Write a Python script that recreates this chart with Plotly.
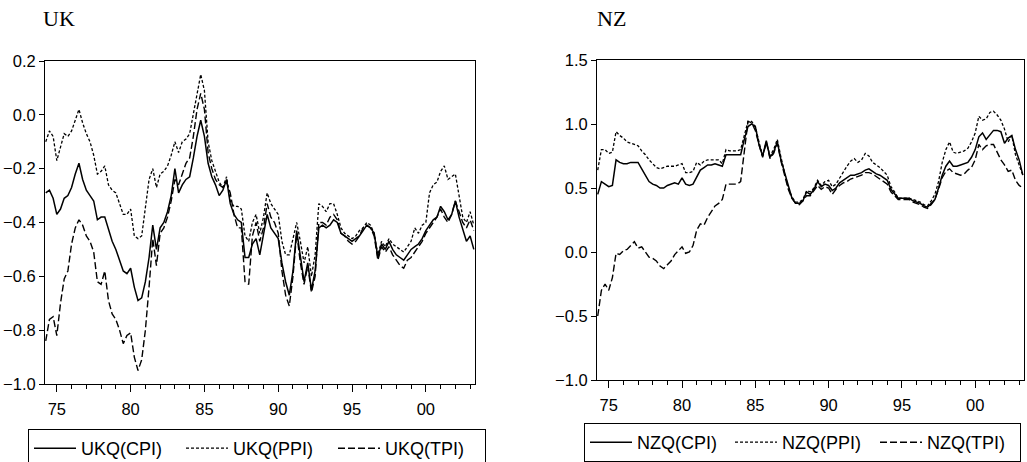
import plotly.graph_objects as go

# ---------------- data (quarterly, 1974Q2 .. 2003Q2) ----------------
start_year = 1974.25
tick_vals = [1975, 1980, 1985, 1990, 1995, 2000]
tick_text = ["75", "80", "85", "90", "95", "00"]

uk_cpi = [
    -0.29, -0.28, -0.31,
    -0.37, -0.35, -0.31, -0.30,
    -0.27, -0.22, -0.18, -0.24,
    -0.28, -0.30, -0.32, -0.39,
    -0.38, -0.38, -0.43, -0.47,
    -0.50, -0.54, -0.58, -0.59,
    -0.57, -0.64, -0.69, -0.68,
    -0.62, -0.53, -0.41, -0.50,
    -0.42, -0.40, -0.36, -0.30,
    -0.20, -0.29, -0.26, -0.24,
    -0.23, -0.16, -0.08, -0.02,
    -0.08, -0.18, -0.23, -0.26,
    -0.30, -0.28, -0.24, -0.33,
    -0.37, -0.39, -0.40, -0.53,
    -0.53, -0.48, -0.46, -0.52,
    -0.45, -0.37, -0.42, -0.44,
    -0.46, -0.55, -0.62, -0.67,
    -0.58, -0.43, -0.52, -0.62,
    -0.55, -0.65, -0.58, -0.42,
    -0.41, -0.42, -0.41, -0.39,
    -0.40, -0.44, -0.45, -0.46,
    -0.47, -0.46, -0.45, -0.43,
    -0.41, -0.42, -0.44, -0.53,
    -0.48, -0.50, -0.47, -0.50,
    -0.52, -0.53, -0.54, -0.52,
    -0.50, -0.49, -0.48, -0.46,
    -0.43, -0.41, -0.39, -0.38,
    -0.34, -0.36, -0.39, -0.37,
    -0.32, -0.38, -0.43, -0.47,
    -0.45, -0.50,
]
uk_ppi = [
    -0.10, -0.06, -0.08,
    -0.17, -0.12, -0.07, -0.08,
    -0.06, -0.02, 0.02, -0.03,
    -0.07, -0.10, -0.15, -0.22,
    -0.21, -0.19, -0.26, -0.28,
    -0.29, -0.33, -0.37, -0.37,
    -0.35, -0.45, -0.46, -0.45,
    -0.35, -0.24, -0.20, -0.27,
    -0.22, -0.21, -0.19, -0.15,
    -0.10, -0.14, -0.10, -0.09,
    -0.07, 0.00, 0.08, 0.15,
    0.09, -0.10, -0.17, -0.21,
    -0.25, -0.27, -0.23, -0.32,
    -0.34, -0.34, -0.35, -0.45,
    -0.47, -0.40, -0.37, -0.44,
    -0.38, -0.29, -0.33, -0.35,
    -0.37, -0.47, -0.52, -0.52,
    -0.46, -0.40, -0.47, -0.55,
    -0.49, -0.60, -0.52, -0.33,
    -0.34, -0.36, -0.33, -0.33,
    -0.37, -0.42, -0.44, -0.45,
    -0.46, -0.45, -0.43, -0.42,
    -0.40, -0.41, -0.44, -0.52,
    -0.47, -0.49, -0.46, -0.48,
    -0.49, -0.50, -0.51, -0.49,
    -0.47, -0.42, -0.44, -0.41,
    -0.40, -0.29, -0.26, -0.25,
    -0.21, -0.19, -0.24, -0.23,
    -0.22, -0.30, -0.38, -0.40,
    -0.36, -0.41,
]
uk_tpi = [
    -0.84, -0.76, -0.75,
    -0.82, -0.70, -0.61, -0.58,
    -0.48, -0.42, -0.39, -0.41,
    -0.45, -0.47, -0.51, -0.62,
    -0.63, -0.58, -0.69, -0.74,
    -0.76, -0.80, -0.85, -0.82,
    -0.81, -0.90, -0.95, -0.91,
    -0.80, -0.64, -0.46, -0.56,
    -0.44, -0.42, -0.38, -0.32,
    -0.24, -0.26, -0.22, -0.18,
    -0.16, -0.08, 0.02, 0.08,
    0.02, -0.14, -0.20, -0.24,
    -0.26, -0.27, -0.25, -0.29,
    -0.37, -0.42, -0.42, -0.62,
    -0.63, -0.45, -0.40, -0.47,
    -0.42, -0.33, -0.38, -0.40,
    -0.44, -0.58, -0.67, -0.71,
    -0.60, -0.44, -0.55, -0.63,
    -0.56, -0.66, -0.60, -0.40,
    -0.40, -0.41, -0.38, -0.37,
    -0.39, -0.44, -0.45, -0.47,
    -0.48, -0.47, -0.45, -0.42,
    -0.41, -0.42, -0.45, -0.54,
    -0.49, -0.51, -0.49, -0.52,
    -0.54, -0.56, -0.57, -0.54,
    -0.53, -0.51, -0.49, -0.47,
    -0.44, -0.42, -0.40, -0.38,
    -0.35, -0.38, -0.40, -0.37,
    -0.32, -0.36, -0.40, -0.42,
    -0.39, -0.43,
]

nz_cpi = [
    0.45, 0.55, 0.53,
    0.51, 0.52, 0.72, 0.70,
    0.69, 0.69, 0.70, 0.70,
    0.70, 0.65, 0.60, 0.55,
    0.53, 0.52, 0.50, 0.50,
    0.52, 0.53, 0.54, 0.53,
    0.58, 0.53, 0.52, 0.53,
    0.59, 0.64, 0.66, 0.68,
    0.68, 0.69, 0.68, 0.67,
    0.76, 0.76, 0.76, 0.76,
    0.76, 0.88, 0.98, 1.00,
    0.98, 0.84, 0.75, 0.87,
    0.74, 0.78, 0.86, 0.72,
    0.62, 0.50, 0.42, 0.38,
    0.38, 0.40, 0.47, 0.45,
    0.49, 0.55, 0.51, 0.53,
    0.52, 0.48, 0.50, 0.54,
    0.56, 0.58, 0.60, 0.60,
    0.61, 0.62, 0.64, 0.65,
    0.63, 0.61, 0.60, 0.58,
    0.56, 0.49, 0.45, 0.42,
    0.42, 0.42, 0.42, 0.40,
    0.39, 0.38, 0.36, 0.35,
    0.38, 0.41, 0.50, 0.60,
    0.67, 0.71, 0.67, 0.67,
    0.68, 0.69, 0.70, 0.74,
    0.80, 0.90, 0.93, 0.88,
    0.92, 0.95, 0.95, 0.94,
    0.85, 0.89, 0.91, 0.80,
    0.72, 0.60,
]
nz_ppi = [
    0.64, 0.80, 0.80,
    0.77, 0.78, 0.94, 0.91,
    0.89, 0.86, 0.85, 0.84,
    0.83, 0.79, 0.76, 0.72,
    0.69, 0.66, 0.65, 0.66,
    0.67, 0.67, 0.67, 0.68,
    0.69, 0.62, 0.62, 0.63,
    0.70, 0.68, 0.71, 0.72,
    0.72, 0.72, 0.72, 0.69,
    0.80, 0.79, 0.79, 0.79,
    0.80, 0.92, 1.02, 1.02,
    0.98, 0.86, 0.75, 0.86,
    0.75, 0.80, 0.88, 0.74,
    0.62, 0.50, 0.43, 0.39,
    0.39, 0.41, 0.48, 0.47,
    0.50, 0.56, 0.52, 0.55,
    0.56, 0.51, 0.53, 0.58,
    0.63, 0.67, 0.71, 0.73,
    0.70, 0.72, 0.77, 0.75,
    0.70, 0.68, 0.66, 0.63,
    0.60, 0.51, 0.47, 0.42,
    0.42, 0.42, 0.42, 0.41,
    0.40, 0.39, 0.37, 0.36,
    0.40, 0.45, 0.55, 0.70,
    0.80, 0.86, 0.78, 0.77,
    0.78, 0.79, 0.81, 0.86,
    0.93, 1.06, 1.03, 1.04,
    1.09, 1.10, 1.07, 1.03,
    0.96, 0.86, 0.91, 0.76,
    0.68, 0.60,
]
nz_tpi = [
    -0.50, -0.30, -0.25,
    -0.30, -0.20, -0.01, -0.02,
    0.01, 0.02, 0.05, 0.08,
    0.03, 0.04, 0.00, -0.04,
    -0.05, -0.07, -0.11, -0.13,
    -0.10, -0.07, -0.02, 0.01,
    0.04, -0.01, 0.00, 0.05,
    0.17, 0.22, 0.21, 0.27,
    0.32, 0.36, 0.38, 0.41,
    0.53, 0.53, 0.53, 0.53,
    0.55, 0.78, 1.02, 1.01,
    0.95, 0.84, 0.74, 0.86,
    0.73, 0.77, 0.85, 0.71,
    0.61, 0.49, 0.42, 0.38,
    0.37, 0.40, 0.44, 0.44,
    0.48, 0.52, 0.49, 0.51,
    0.50, 0.45, 0.49, 0.52,
    0.54, 0.55, 0.57, 0.58,
    0.59, 0.60, 0.62, 0.62,
    0.61, 0.59, 0.57, 0.55,
    0.53, 0.47, 0.44, 0.41,
    0.41, 0.41, 0.41, 0.39,
    0.38, 0.37, 0.35, 0.34,
    0.37, 0.41, 0.49, 0.58,
    0.63, 0.65, 0.62, 0.61,
    0.60, 0.61, 0.64, 0.66,
    0.72, 0.84, 0.80, 0.83,
    0.84, 0.84, 0.78, 0.72,
    0.68, 0.63, 0.64, 0.56,
    0.52, 0.50,
]

n = len(uk_cpi)
quarters = [start_year + 0.25 * i for i in range(n)]

W, H = 1027, 462
SANS = "Liberation Sans, Arial, sans-serif"
SERIF = "Liberation Serif, Times New Roman, serif"

styles = {
    "CPI": dict(color="black", width=1.5, dash="solid"),
    "PPI": dict(color="black", width=1.3, dash="3px,2px"),
    "TPI": dict(color="black", width=1.4, dash="7px,3px"),
}

fig = go.Figure()
for name, ys in [("UKQ(CPI)", uk_cpi), ("UKQ(PPI)", uk_ppi), ("UKQ(TPI)", uk_tpi)]:
    key = name[4:7]
    fig.add_trace(go.Scatter(x=quarters, y=ys, mode="lines", name=name,
                             line=styles[key], xaxis="x", yaxis="y", legend="legend"))
for name, ys in [("NZQ(CPI)", nz_cpi), ("NZQ(PPI)", nz_ppi), ("NZQ(TPI)", nz_tpi)]:
    key = name[4:7]
    fig.add_trace(go.Scatter(x=quarters, y=ys, mode="lines", name=name,
                             line=styles[key], xaxis="x2", yaxis="y2", legend="legend2"))


def px_x(p):
    return p / W


def px_y(p):
    return 1 - p / H


xcommon = dict(
    range=[1974.2, 2003.33], tickmode="array", tickvals=tick_vals, ticktext=tick_text,
    ticks="outside", ticklen=7, tickwidth=1, tickcolor="black",
    minor=dict(dtick=1, tick0=1975, ticks="outside", ticklen=4, tickwidth=1, tickcolor="black"),
    showline=True, linecolor="black", linewidth=1, mirror=True,
    showgrid=False, zeroline=False, ticklabelstandoff=3,
    tickfont=dict(family=SANS, size=16.5, color="black"),
)
ycommon = dict(
    ticks="outside", ticklen=5, tickwidth=1, tickcolor="black",
    showline=True, linecolor="black", linewidth=1, mirror=True,
    showgrid=False, zeroline=False, tickformat=".1f",
    tickfont=dict(family=SANS, size=16.5, color="black"),
)

fig.update_layout(
    width=W, height=H,
    margin=dict(l=0, r=0, t=0, b=0, autoexpand=False),
    paper_bgcolor="white", plot_bgcolor="white",
    xaxis=dict(domain=[px_x(45), px_x(475)], anchor="y", **xcommon),
    yaxis=dict(domain=[px_y(384), px_y(61)], anchor="x", range=[-1.0, 0.2],
               tickvals=[-1.0, -0.8, -0.6, -0.4, -0.2, 0.0, 0.2], **ycommon),
    xaxis2=dict(domain=[px_x(597), px_x(1024)], anchor="y2", **xcommon),
    yaxis2=dict(domain=[px_y(380), px_y(60)], anchor="x2", range=[-1.0, 1.5],
                tickvals=[-1.0, -0.5, 0.0, 0.5, 1.0, 1.5], **ycommon),
    legend=dict(orientation="h", x=px_x(28), y=px_y(429), xanchor="left", yanchor="top",
                xref="paper", yref="paper",
                bordercolor="black", borderwidth=1, bgcolor="white",
                itemwidth=42, entrywidth=95, entrywidthmode="pixels",
                font=dict(family=SANS, size=18, color="black")),
    legend2=dict(orientation="h", x=px_x(584), y=px_y(423), xanchor="left", yanchor="top",
                 xref="paper", yref="paper",
                 bordercolor="black", borderwidth=1, bgcolor="white",
                 itemwidth=42, entrywidth=88, entrywidthmode="pixels",
                 font=dict(family=SANS, size=18, color="black")),
    annotations=[
        dict(text="UK", xref="paper", yref="paper", x=px_x(41), y=px_y(18),
             xanchor="left", yanchor="middle", showarrow=False,
             font=dict(family=SERIF, size=22, color="black")),
        dict(text="NZ", xref="paper", yref="paper", x=px_x(595), y=px_y(18),
             xanchor="left", yanchor="middle", showarrow=False,
             font=dict(family=SERIF, size=22, color="black")),
    ],
)

fig.write_html("out.html", config={"displayModeBar": False},
               post_script="document.body.style.margin='0px';")
